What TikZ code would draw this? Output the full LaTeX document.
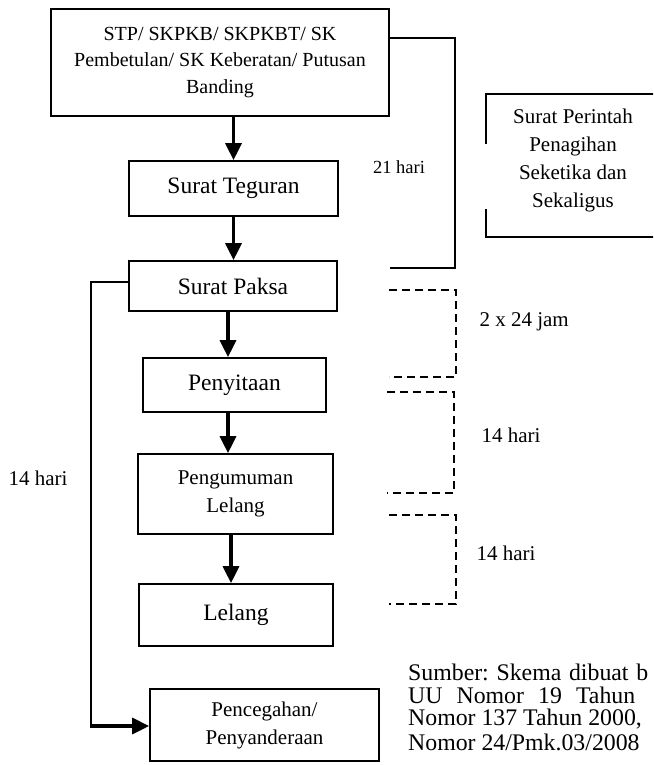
\documentclass[tikz,border=0pt]{standalone}
\usepackage{fontspec}
\setmainfont{Liberation Serif}
\usetikzlibrary{arrows.meta}
\begin{document}
\frenchspacing
\begin{tikzpicture}[x=1pt,y=-1pt,
  box/.style={draw, line width=1.7pt, inner sep=0pt, align=center},
  arr/.style={line width=3.2pt, -{Triangle[length=17pt,width=16pt]}},
  thinline/.style={line width=1.7pt},
  dashline/.style={line width=2.5pt, dash pattern=on 8pt off 5pt},
  big/.style={font=\fontsize{23.5}{27}\selectfont},
  mid/.style={font=\fontsize{21}{28}\selectfont},
  small/.style={font=\fontsize{18.5}{22}\selectfont},
  src/.style={font=\fontsize{23.8}{24}\selectfont, anchor=west, inner sep=0pt}]
\useasboundingbox (0,0) rectangle (653,765);
\clip (0,0) rectangle (653,765);

% main boxes
\node[box, font=\fontsize{20}{26.5}\selectfont, minimum width=338pt, minimum height=107pt] (top) at (220,62.5)
  {STP/ SKPKB/ SKPKBT/ SK\\Pembetulan/ SK Keberatan/ Putusan\\Banding};
\node[box, big, minimum width=209pt, minimum height=55pt] (teg) at (233.5,188.5) {Surat Teguran};
\node[box, big, minimum width=208pt, minimum height=50pt] (paksa) at (233,286) {Surat Paksa};
\node[box, big, minimum width=183pt, minimum height=54pt] (peny) at (234.5,385) {Penyitaan};
\node[box, mid, minimum width=195pt, minimum height=80pt] (peng) at (235.5,494) {Pengumuman\\Lelang};
\node[box, big, minimum width=194pt, minimum height=62pt] (lel) at (236,615) {Lelang};
\node[box, mid, minimum width=229pt, minimum height=72pt] (cegah) at (264.5,725) {Pencegahan/\\Penyanderaan};

% vertical arrows
\draw[arr] (top.south -| teg.north) -- (teg.north);
\draw[arr] (teg.south) -- (teg.south |- paksa.north);
\draw[arr] ([xshift=-5pt]paksa.south) -- ([xshift=-5pt]paksa.south |- peny.north);
\draw[arr] ([xshift=-6.5pt]peny.south) -- ([xshift=-6.5pt]peny.south |- peng.north);
\draw[arr] ([xshift=-4.5pt]peng.south) -- ([xshift=-4.5pt]peng.south |- lel.north);

% left branch to Pencegahan
\coordinate (lc1) at (91,282);
\coordinate (lc2) at (91,726);
\draw[thinline] ([yshift=4pt]paksa.west) -- (lc1) -- (lc2);
\draw[arr] ([xshift=-0.85pt]lc2) -- (cegah.west |- lc2);
\node[mid] (l14) at (38,478) {14 hari};

% 21 hari bracket
\coordinate (b1) at (455,38);
\coordinate (b2) at (455,268);
\coordinate (b3) at (390,268);
\draw[thinline] (top.east |- b1) -- (b1) -- (b2) -- (b3);
\node[small] (h21) at (399,167) {21 hari};

% Surat Perintah box (open left side)
\draw[thinline] (486,144) -- (486,94) -- (670,94);
\draw[thinline] (486,209) -- (486,237) -- (670,237);
\node[mid, align=center] (spp) at (573,160) {Surat Perintah\\Penagihan\\Seketika dan\\Sekaligus};

% dashed brackets
\draw[dashline] (389,290) -- (456,290) -- (456,377) -- (389,377);
\draw[dashline] (387,392) -- (454,392) -- (454,493) -- (387,493);
\draw[dashline] (389,515) -- (456,515) -- (456,604) -- (389,604);
\node[mid, anchor=west] (j48) at (476,322) {2 x 24 jam};
\node[mid, anchor=west] (h14a) at (478,435) {14 hari};
\node[mid, anchor=west] (h14b) at (473,553) {14 hari};

% source text
\node[src] (s1) at (408,672) {\makebox[240pt][s]{Sumber: Skema dibuat b}};
\node[src] (s2) at (408,695.5) {\makebox[227pt][s]{UU Nomor 19 Tahun}};
\node[src] (s3) at (408,719) {Nomor 137 Tahun 2000,};
\node[src] (s4) at (408,742.5) {Nomor 24/Pmk.03/2008};
\end{tikzpicture}
\end{document}
